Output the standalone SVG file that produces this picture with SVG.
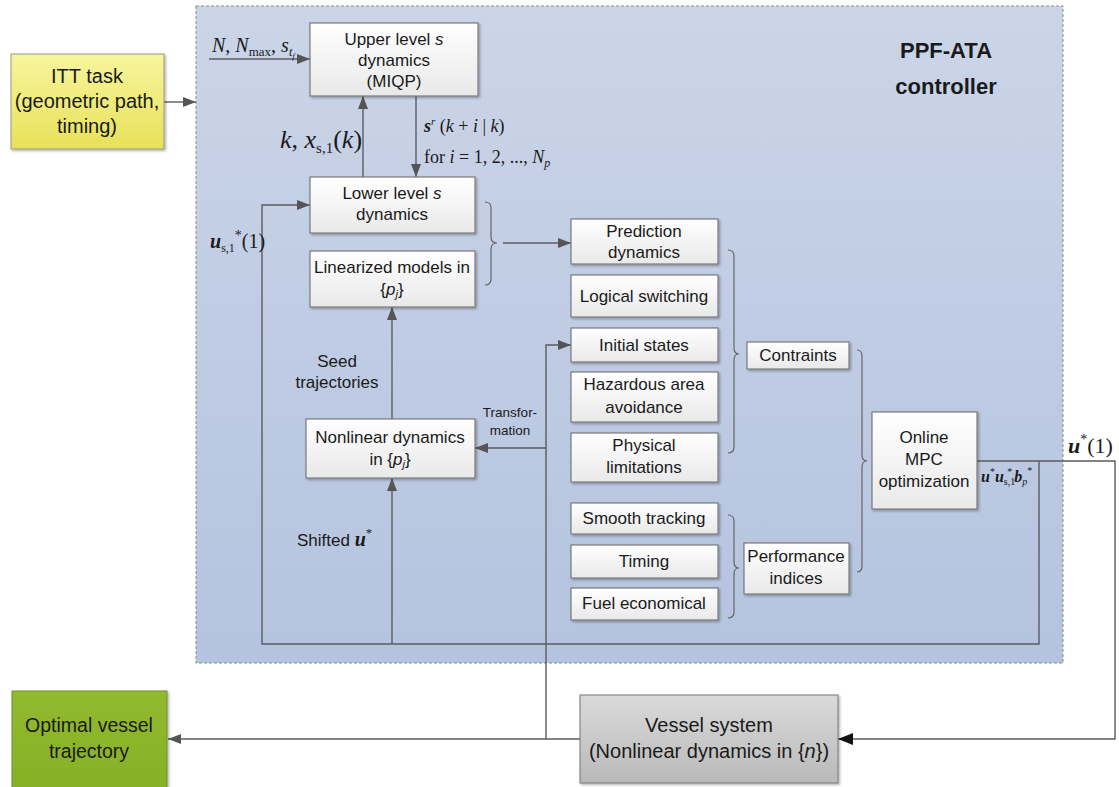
<svg xmlns="http://www.w3.org/2000/svg" width="1119" height="787" viewBox="0 0 1119 787">
<style>
.t{font-family:"Liberation Sans",Arial,sans-serif;font-size:17px;fill:#1a1a1a;text-anchor:middle}
.big{font-size:20px}
.m{font-family:"Liberation Serif","Times New Roman",serif;fill:#1a1a1a}
.box{fill:url(#wg);stroke:#7a7a7a;stroke-width:1.2;filter:url(#sh)}
.c{fill:none;stroke:#5c5c5c;stroke-width:1.4}
.br{fill:none;stroke:#666;stroke-width:1.2}
</style>
<defs>
<linearGradient id="wg" x1="0" y1="0" x2="0" y2="1"><stop offset="0" stop-color="#ffffff"/><stop offset="1" stop-color="#e9e9e9"/></linearGradient>
<linearGradient id="bg" x1="0" y1="0" x2="0" y2="1"><stop offset="0" stop-color="#cbd5e8"/><stop offset="1" stop-color="#b4c3df"/></linearGradient>
<linearGradient id="yg" x1="0" y1="0" x2="0" y2="1"><stop offset="0" stop-color="#f7f59e"/><stop offset="1" stop-color="#e8e15a"/></linearGradient>
<linearGradient id="gg" x1="0" y1="0" x2="0" y2="1"><stop offset="0" stop-color="#92ba30"/><stop offset="1" stop-color="#86b026"/></linearGradient>
<linearGradient id="vg" x1="0" y1="0" x2="0" y2="1"><stop offset="0" stop-color="#dadada"/><stop offset="1" stop-color="#b9b9b9"/></linearGradient>
<filter id="sh" x="-10%" y="-10%" width="130%" height="130%"><feDropShadow dx="1.5" dy="1.5" stdDeviation="1" flood-color="#000" flood-opacity="0.3"/></filter>
<marker id="a" markerUnits="userSpaceOnUse" markerWidth="13" markerHeight="10" refX="13" refY="5" orient="auto"><path d="M0,0 L13,5 L0,10 z" fill="#555"/></marker>
<marker id="ak" markerUnits="userSpaceOnUse" markerWidth="15" markerHeight="12" refX="15" refY="6" orient="auto"><path d="M0,0 L15,6 L0,12 z" fill="#111"/></marker>
</defs>
<rect width="1119" height="787" fill="#ffffff"/>

<g id="controller">
<rect x="196" y="6" width="867" height="657" fill="url(#bg)" stroke="#8a8a8a" stroke-width="1" stroke-dasharray="3,2"/>
<text class="t" x="946" y="58" style="font-weight:bold;font-size:22px">PPF-ATA</text>
<text class="t" x="946" y="94" style="font-weight:bold;font-size:22px">controller</text>
</g>

<g id="connectors">
<path class="c" d="M164,102 H196" marker-end="url(#a)"/>
<path class="c" d="M209,59 H310" marker-end="url(#a)"/>
<path class="c" d="M363,177 V96" marker-end="url(#a)"/>
<path class="c" d="M416,96 V177" marker-end="url(#a)"/>
<path class="c" d="M503,243 H571" marker-end="url(#a)"/>
<path class="c" d="M1039,461 V644 H262 V205 H310" marker-end="url(#a)"/>
<path class="c" d="M392,644 V478" marker-end="url(#a)"/>
<path class="c" d="M392,419 V307" marker-end="url(#a)"/>
<path class="c" d="M580,739 H168" marker-end="url(#a)"/>
<path class="c" d="M546,739 V345 H571" marker-end="url(#a)"/>
<path class="c" d="M546,448 H475" marker-end="url(#a)"/>
<path class="c" d="M977,461 H1115 V739 H838" marker-end="url(#ak)"/>
<path class="br" d="M485,202 Q491,202 491,208 V237 Q491,243 497,243 Q491,243 491,249 V279 Q491,285 485,285"/>
<path class="br" d="M728,250 Q734,250 734,256 V348 Q734,354 739,354 Q734,354 734,360 V447 Q734,453 728,453"/>
<path class="br" d="M728,515 Q734,515 734,521 V562 Q734,568 739,568 Q734,568 734,574 V612 Q734,618 728,618"/>
<path class="br" d="M857,350 Q862,350 862,356 V455 Q862,461 867,461 Q862,461 862,467 V566 Q862,572 857,572"/>
</g>

<g id="labels">
<text class="m" x="212" y="52" font-size="20"><tspan font-style="italic">N</tspan>, <tspan font-style="italic">N</tspan><tspan font-size="13" dy="4">max</tspan><tspan dy="-4">, </tspan><tspan font-style="italic">s</tspan><tspan font-size="12" font-style="italic" dy="4">t</tspan><tspan font-size="9" font-style="italic" dy="3">f</tspan></text>
<text class="m" x="280" y="148" font-size="26"><tspan font-style="italic">k</tspan>, <tspan font-style="italic">x</tspan><tspan font-size="15" dy="5">s,1</tspan><tspan dy="-5">(</tspan><tspan font-style="italic">k</tspan>)</text>
<text class="m" x="424" y="132" font-size="18"><tspan font-style="italic" font-weight="bold">s</tspan><tspan font-style="italic" font-size="11" dy="-7">r</tspan><tspan dy="7"> (</tspan><tspan font-style="italic">k</tspan> + <tspan font-style="italic">i</tspan> | <tspan font-style="italic">k</tspan>)</text>
<text class="m" x="424" y="163" font-size="18">for <tspan font-style="italic">i</tspan> = 1, 2, ..., <tspan font-style="italic">N</tspan><tspan font-style="italic" font-size="12" dy="4">p</tspan></text>
<text class="m" x="210" y="248" font-size="20"><tspan font-style="italic" font-weight="bold">u</tspan><tspan font-size="12" dy="4">s,1</tspan><tspan font-size="14" dy="-12">*</tspan><tspan dy="8">(1)</tspan></text>
<text class="t" x="337" y="367">Seed</text>
<text class="t" x="337" y="388">trajectories</text>
<text class="t" x="510" y="417" style="font-size:13.5px">Transfor-</text>
<text class="t" x="510" y="435" style="font-size:13.5px">mation</text>
<text class="t" x="297" y="546" style="text-anchor:start">Shifted <tspan class="m" font-size="20" font-style="italic" font-weight="bold">u</tspan><tspan class="m" font-size="13" dy="-9">*</tspan></text>
<text class="m" x="1068" y="453" font-size="22"><tspan font-style="italic" font-weight="bold">u</tspan><tspan font-size="14" dy="-9">*</tspan><tspan dy="9">(1)</tspan></text>
<text class="m" x="981" y="482" font-size="16"><tspan font-style="italic" font-weight="bold">u</tspan><tspan font-size="10" dy="-7">*</tspan><tspan font-style="italic" font-weight="bold" dy="7">u</tspan><tspan font-size="10" dy="3">s,1</tspan><tspan font-size="10" dy="-10" dx="-8">*</tspan><tspan font-style="italic" font-weight="bold" dy="7" dx="2">b</tspan><tspan font-style="italic" font-size="10" dy="3">p</tspan><tspan font-size="10" dy="-11">*</tspan></text>
</g>

<g id="itt">
<rect x="11" y="54" width="153" height="95" fill="url(#yg)" stroke="#9a9a7a" stroke-width="1" filter="url(#sh)"/>
<text class="t big" x="87" y="83">ITT task</text>
<text class="t big" x="87" y="108">(geometric path,</text>
<text class="t big" x="87" y="133">timing)</text>
</g>

<g id="upper">
<rect class="box" x="310" y="23" width="168" height="73"/>
<text class="t" x="394" y="45">Upper level <tspan font-style="italic">s</tspan></text>
<text class="t" x="394" y="66">dynamics</text>
<text class="t" x="394" y="87">(MIQP)</text>
</g>

<g id="lower">
<rect class="box" x="310" y="177" width="165" height="56"/>
<text class="t" x="392" y="199">Lower level <tspan font-style="italic">s</tspan></text>
<text class="t" x="392" y="220">dynamics</text>
</g>

<g id="linearized">
<rect class="box" x="310" y="251" width="165" height="56"/>
<text class="t" x="392" y="273">Linearized models in</text>
<text class="t" x="392" y="295">{<tspan font-style="italic">p</tspan><tspan font-style="italic" font-size="11" dy="3">j</tspan><tspan dy="-3">}</tspan></text>
</g>

<g id="nonlinear">
<rect class="box" x="306" y="419" width="169" height="59"/>
<text class="t" x="390" y="443">Nonlinear dynamics</text>
<text class="t" x="390" y="465">in {<tspan font-style="italic">p</tspan><tspan font-style="italic" font-size="11" dy="3">j</tspan><tspan dy="-3">}</tspan></text>
</g>

<g id="prediction">
<rect class="box" x="571" y="219" width="147" height="45"/>
<text class="t" x="644" y="237">Prediction</text>
<text class="t" x="644" y="258">dynamics</text>
</g>
<g id="logical">
<rect class="box" x="571" y="275" width="147" height="42"/>
<text class="t" x="644" y="302">Logical switching</text>
</g>
<g id="initial">
<rect class="box" x="571" y="328" width="147" height="34"/>
<text class="t" x="644" y="351">Initial states</text>
</g>
<g id="hazardous">
<rect class="box" x="571" y="372" width="147" height="50"/>
<text class="t" x="644" y="390">Hazardous area</text>
<text class="t" x="644" y="413">avoidance</text>
</g>
<g id="physical">
<rect class="box" x="571" y="433" width="147" height="49"/>
<text class="t" x="644" y="451">Physical</text>
<text class="t" x="644" y="473">limitations</text>
</g>
<g id="contraints">
<rect class="box" x="747" y="342" width="102" height="27"/>
<text class="t" x="798" y="361">Contraints</text>
</g>
<g id="smooth">
<rect class="box" x="571" y="503" width="147" height="31"/>
<text class="t" x="644" y="524">Smooth tracking</text>
</g>
<g id="timing">
<rect class="box" x="571" y="545" width="147" height="33"/>
<text class="t" x="644" y="567">Timing</text>
</g>
<g id="fuel">
<rect class="box" x="571" y="588" width="147" height="32"/>
<text class="t" x="644" y="609">Fuel economical</text>
</g>
<g id="performance">
<rect class="box" x="744" y="543" width="105" height="51"/>
<text class="t" x="796" y="562">Performance</text>
<text class="t" x="796" y="584">indices</text>
</g>
<g id="mpc">
<rect class="box" x="872" y="412" width="105" height="97"/>
<text class="t" x="924" y="443">Online</text>
<text class="t" x="924" y="465">MPC</text>
<text class="t" x="924" y="487">optimization</text>
</g>

<g id="optimal">
<rect x="12" y="691" width="155" height="100" fill="url(#gg)" stroke="#6f8f2a" stroke-width="1" filter="url(#sh)"/>
<text class="t" x="89" y="732" style="font-size:19.5px">Optimal vessel</text>
<text class="t" x="89" y="758" style="font-size:19.5px">trajectory</text>
</g>

<g id="vessel">
<rect x="580" y="695" width="258" height="88" fill="url(#vg)" stroke="#777" stroke-width="1" filter="url(#sh)"/>
<text class="t big" x="709" y="732">Vessel system</text>
<text class="t big" x="709" y="758">(Nonlinear dynamics in {<tspan font-style="italic">n</tspan>})</text>
</g>
</svg>
